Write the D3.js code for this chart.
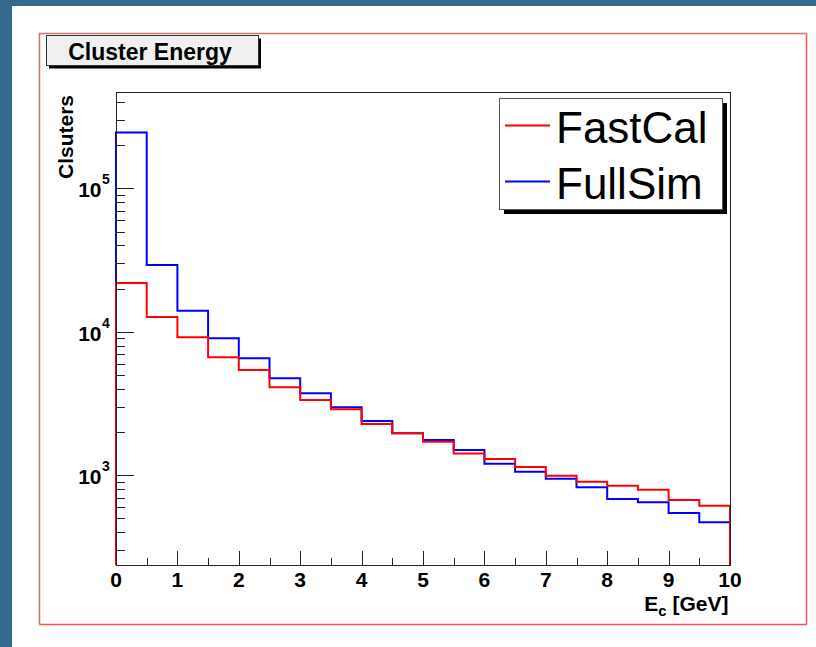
<!DOCTYPE html>
<html>
<head>
<meta charset="utf-8">
<script src="https://cdn.jsdelivr.net/npm/d3@7"></script>
<style>
    body { margin: 0; padding: 0; background: #ffffff; }
    svg { display: block; font-family: "Liberation Sans", Arial, Helvetica, sans-serif; }
</style>
</head>
<body>
<div id="chart"></div>
<script>
/*
* Cluster energy histograms, FastCal vs FullSim (log scale)
*/

//Bin lower edges (GeV), bin width is 0.5
var binLow = [0, 0.5, 1, 1.5, 2, 2.5, 3, 3.5, 4, 4.5, 5, 5.5, 6, 6.5, 7, 7.5, 8, 8.5, 9, 9.5];
var binWidth = 0.5;

//Number of clusters per bin
var fastCal = [21900, 12700, 9150, 6640, 5420, 4100, 3350, 2890, 2280, 1960, 1710, 1420, 1300, 1140, 994, 902, 846, 794, 673, 614];
var fullSim = [245000, 29200, 14000, 9010, 6530, 4740, 3730, 2980, 2390, 1960, 1760, 1500, 1205, 1060, 947, 825, 684, 649, 546, 470];

var xTicks = [0, 1, 2, 3, 4, 5, 6, 7, 8, 9, 10];
var yDecades = [1e3, 1e4, 1e5];
var seriesNames = ["FastCal", "FullSim"];
var seriesColors = ["#ff0000", "#0000ff"];

var svg, x, y;
var W = 816, H = 647;
var frame = {left: 116, right: 730, top: 92, bottom: 565};

initChart();

function initChart() {

    svg = d3.select("#chart")
        .append("svg")
        .attr("width", W)
        .attr("height", H);

    //Canvas border (dark strip on top and left) and white canvas
    svg.append("rect").attr("width", W).attr("height", H).attr("fill", "#356a8c");
    svg.append("rect").attr("x", 12).attr("y", 6).attr("width", W - 12).attr("height", H - 6).attr("fill", "#ffffff");

    //Pad border, darker on top/left
    svg.append("path")
        .attr("d", "M39.5,624.5 L39.5,33.5 L806.5,33.5")
        .attr("fill", "none").attr("stroke", "#c87474").attr("stroke-width", 1.5);
    svg.append("path")
        .attr("d", "M806.5,33.5 L806.5,624.5 L39.5,624.5")
        .attr("fill", "none").attr("stroke", "#ff5050").attr("stroke-width", 1.5);

    x = d3.scaleLinear()
        .domain([0, 10])
        .range([frame.left, frame.right]);

    y = d3.scaleLog()
        .domain([237, 469000])
        .range([frame.bottom, frame.top]);

    drawAxes();

    //Blue first, red on top of it
    drawHist(fullSim, seriesColors[1]);
    drawHist(fastCal, seriesColors[0]);

    //Frame
    svg.append("rect")
        .attr("x", frame.left + 0.5).attr("y", frame.top + 0.5)
        .attr("width", frame.right - frame.left).attr("height", frame.bottom - frame.top)
        .attr("fill", "none").attr("stroke", "#222").attr("stroke-width", 1);

    drawTitle();
    drawLegend();
}

//Step outline going down to the bottom of the frame at both ends
function drawHist(values, col) {
    var pts = [[binLow[0], y.domain()[0]]];
    binLow.forEach(function (lo, i) {
        pts.push([lo, values[i]]);
        pts.push([lo + binWidth, values[i]]);
    });
    pts.push([binLow[binLow.length - 1] + binWidth, y.domain()[0]]);

    var line = d3.line()
        .x(function (d) { return x(d[0]); })
        .y(function (d) { return y(d[1]); });

    svg.append("path")
        .attr("d", line(pts))
        .attr("fill", "none")
        .attr("stroke", col)
        .attr("stroke-width", 2);
}

function drawAxes() {
    var g = svg.append("g");

    //X ticks: major at integers, minor in between, pointing up
    var xMinor = xTicks.slice(0, -1).map(function (t) { return t + 0.5; });
    g.selectAll(".xmaj").data(xTicks).enter().append("line")
        .attr("x1", function (d) { return Math.round(x(d)) + 0.5; })
        .attr("x2", function (d) { return Math.round(x(d)) + 0.5; })
        .attr("y1", frame.bottom).attr("y2", frame.bottom - 14)
        .attr("stroke", "#222");
    g.selectAll(".xmin").data(xMinor).enter().append("line")
        .attr("x1", function (d) { return Math.round(x(d)) + 0.5; })
        .attr("x2", function (d) { return Math.round(x(d)) + 0.5; })
        .attr("y1", frame.bottom).attr("y2", frame.bottom - 7)
        .attr("stroke", "#222");
    g.selectAll(".xlab").data(xTicks).enter().append("text")
        .attr("x", function (d) { return x(d); })
        .attr("y", 587)
        .attr("text-anchor", "middle")
        .style("font-size", "21px").style("font-weight", "bold")
        .text(function (d) { return d; });

    //Y ticks on log scale
    var yMinor = [];
    y.ticks().forEach(function (t) {
        if (yDecades.indexOf(t) < 0) yMinor.push(t);
    });
    g.selectAll(".ymaj").data(yDecades).enter().append("line")
        .attr("x1", frame.left).attr("x2", frame.left + 18)
        .attr("y1", function (d) { return Math.round(y(d)) + 0.5; })
        .attr("y2", function (d) { return Math.round(y(d)) + 0.5; })
        .attr("stroke", "#222");
    g.selectAll(".ymin").data(yMinor).enter().append("line")
        .attr("x1", frame.left).attr("x2", frame.left + 9)
        .attr("y1", function (d) { return Math.round(y(d)) + 0.5; })
        .attr("y2", function (d) { return Math.round(y(d)) + 0.5; })
        .attr("stroke", "#222");

    g.selectAll(".ylab").data(yDecades).enter().append("text")
        .attr("x", 101.5)
        .attr("y", function (d) { return y(d) + 9; })
        .attr("text-anchor", "end")
        .style("font-size", "21px").style("font-weight", "bold")
        .text("10");
    g.selectAll(".yexp").data(yDecades).enter().append("text")
        .attr("x", 102)
        .attr("y", function (d) { return y(d) - 4; })
        .style("font-size", "14px").style("font-weight", "bold")
        .text(function (d) { return Math.round(Math.log10(d)); });

    //Axis titles
    svg.append("text")
        .attr("transform", "translate(73,95) rotate(-90)")
        .attr("text-anchor", "end")
        .style("font-size", "21px").style("font-weight", "bold")
        .text("Clsuters");

    var xt = svg.append("text")
        .attr("x", 728.5).attr("y", 611)
        .attr("text-anchor", "end")
        .style("font-size", "21px").style("font-weight", "bold");
    xt.append("tspan").text("E");
    xt.append("tspan").attr("dy", 5).style("font-size", "15px").text("c");
    xt.append("tspan").attr("dy", -5).text(" [GeV]");
}

function drawTitle() {
    svg.append("rect")
        .attr("x", 49).attr("y", 38.5).attr("width", 212).attr("height", 30)
        .attr("fill", "#000");
    svg.append("rect")
        .attr("x", 46.5).attr("y", 35.5).attr("width", 212).attr("height", 30)
        .attr("fill", "#f0f0f0").attr("stroke", "#333").attr("stroke-width", 1);
    svg.append("text")
        .attr("x", 150).attr("y", 59.5)
        .attr("text-anchor", "middle")
        .style("font-size", "23px").style("font-weight", "bold")
        .text("Cluster Energy");
}

function drawLegend() {
    svg.append("rect")
        .attr("x", 504).attr("y", 103).attr("width", 223).attr("height", 111)
        .attr("fill", "#000");
    svg.append("rect")
        .attr("x", 499.5).attr("y", 98.5).attr("width", 223).attr("height", 111)
        .attr("fill", "#fff").attr("stroke", "#555").attr("stroke-width", 1);

    var rows = svg.selectAll(".leg").data(seriesNames).enter().append("g")
        .attr("transform", function (d, i) { return "translate(0," + (i * 56) + ")"; });
    rows.append("line")
        .attr("x1", 505).attr("x2", 550).attr("y1", 125.5).attr("y2", 125.5)
        .attr("stroke", function (d, i) { return seriesColors[i]; })
        .attr("stroke-width", 2);
    rows.append("text")
        .attr("x", 556).attr("y", 142.5)
        .style("font-size", "44px")
        .text(function (d) { return d; });
}
</script>
</body>
</html>
